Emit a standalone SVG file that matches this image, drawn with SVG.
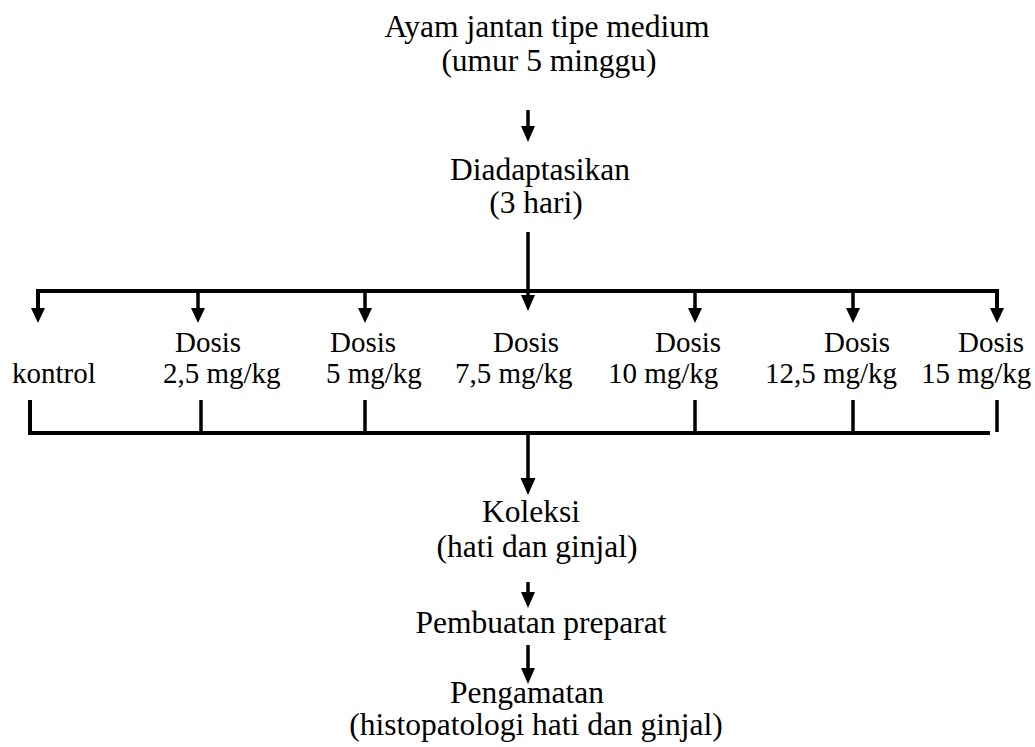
<svg xmlns="http://www.w3.org/2000/svg" width="1035" height="747" viewBox="0 0 1035 747" font-family="'Liberation Serif', 'Tinos', 'Times New Roman', 'DejaVu Serif', serif">
<style>
text{font-family:'Liberation Serif','Tinos','Times New Roman','DejaVu Serif',serif;fill:#000}
.main{font-size:31.5px;text-anchor:middle}
.dose{font-size:29px}
.ln{stroke:#000;stroke-width:3.5;fill:none}
.bar{stroke:#000;stroke-width:4;fill:none}
.hd{fill:#000}
</style>
<rect width="1035" height="747" fill="#fff"/>
<g id="n-ayam"><text class="main" x="547" y="37">Ayam jantan tipe medium</text><text class="main" x="549" y="71">(umur 5 minggu)</text></g>
<g id="n-adapt"><text class="main" x="540" y="180">Diadaptasikan</text><text class="main" x="536" y="213">(3 hari)</text></g>
<g id="n-kontrol"><text class="dose" x="12" y="383">kontrol</text></g>
<g id="n-d25"><text class="dose" x="175" y="352">Dosis</text><text class="dose" x="163" y="383">2,5 mg/kg</text></g>
<g id="n-d5"><text class="dose" x="330" y="352">Dosis</text><text class="dose" x="326" y="383">5 mg/kg</text></g>
<g id="n-d75"><text class="dose" x="493" y="352">Dosis</text><text class="dose" x="455" y="383">7,5 mg/kg</text></g>
<g id="n-d10"><text class="dose" x="655" y="352">Dosis</text><text class="dose" x="608" y="383">10 mg/kg</text></g>
<g id="n-d125"><text class="dose" x="824" y="352">Dosis</text><text class="dose" x="765" y="383">12,5 mg/kg</text></g>
<g id="n-d15"><text class="dose" x="958" y="352">Dosis</text><text class="dose" x="921" y="383">15 mg/kg</text></g>
<g id="n-koleksi"><text class="main" x="531" y="522">Koleksi</text><text class="main" x="537" y="557">(hati dan ginjal)</text></g>
<g id="n-pembuatan"><text class="main" x="541" y="633">Pembuatan preparat</text></g>
<g id="n-pengamatan"><text class="main" x="527" y="703">Pengamatan</text><text class="main" x="536" y="735">(histopatologi hati dan ginjal)</text></g>
<g id="connectors">
<line class="ln" x1="528" y1="110" x2="528" y2="127"/><polygon class="hd" points="521,126 535,126 528,142"/>
<line class="ln" x1="528" y1="232" x2="528" y2="296"/><polygon class="hd" points="521,295 535,295 528,311"/>
<path class="bar" d="M38,309 V291 H997 V309"/>
<polygon class="hd" points="31,308 45,308 38,323"/>
<line class="ln" x1="198" y1="291" x2="198" y2="309"/><polygon class="hd" points="191,308 205,308 198,323"/>
<line class="ln" x1="365" y1="291" x2="365" y2="309"/><polygon class="hd" points="358,308 372,308 365,323"/>
<line class="ln" x1="695" y1="291" x2="695" y2="309"/><polygon class="hd" points="688,308 702,308 695,323"/>
<line class="ln" x1="853" y1="291" x2="853" y2="309"/><polygon class="hd" points="846,308 860,308 853,323"/>
<polygon class="hd" points="990,308 1004,308 997,323"/>
<path class="bar" d="M30,400 V433 H990"/>
<line class="ln" x1="201" y1="400" x2="201" y2="433"/>
<line class="ln" x1="365" y1="400" x2="365" y2="433"/>
<line class="ln" x1="695" y1="400" x2="695" y2="433"/>
<line class="ln" x1="853" y1="400" x2="853" y2="433"/>
<line class="ln" x1="997" y1="400" x2="997" y2="432"/>
<line class="ln" x1="528" y1="433" x2="528" y2="479"/><polygon class="hd" points="520.5,478 535.5,478 528,495"/>
<line class="ln" x1="528" y1="582" x2="528" y2="593"/><polygon class="hd" points="521,592 535,592 528,608"/>
<line class="ln" x1="528" y1="645" x2="528" y2="669"/><polygon class="hd" points="521,668 535,668 528,684"/>
</g>
</svg>
